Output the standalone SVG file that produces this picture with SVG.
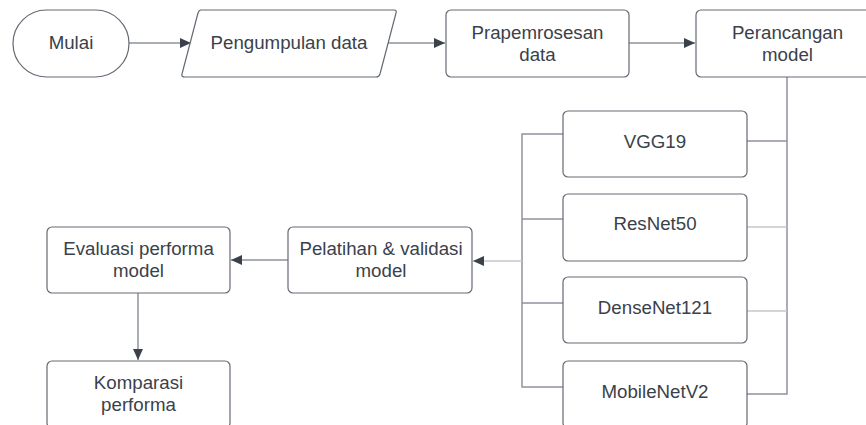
<svg xmlns="http://www.w3.org/2000/svg" width="866" height="425" viewBox="0 0 866 425">
  <defs>
    <marker id="arr" viewBox="0 0 10 10" refX="10" refY="5" markerWidth="11" markerHeight="11" markerUnits="userSpaceOnUse" orient="auto">
      <path d="M0,0.5 L10,5 L0,9.5 Z" fill="#3a414a"/>
    </marker>
  </defs>
  <style>
    .box { fill: #ffffff; stroke: #646a73; stroke-width: 1.2; }
    .t { font-family: "Liberation Sans", Arial, sans-serif; font-size: 18.7px; fill: #3a414a; text-anchor: middle; }
    .c { fill: none; stroke: #8e939b; stroke-width: 1.5; }
    .cl { fill: none; stroke: #c4c7cc; stroke-width: 1.5; }
  </style>
  <rect width="866" height="425" fill="#ffffff"/>

  <g id="connectors">
    <path class="c" d="M129,43 H191" marker-end="url(#arr)"/>
    <path class="c" d="M388,43 H445" marker-end="url(#arr)"/>
    <path class="c" d="M629,43 H695" marker-end="url(#arr)"/>
    <path class="c" d="M787,77 V394 H747"/>
    <path class="c" d="M747,141 H787"/>
    <path class="cl" d="M747,227 H787"/>
    <path class="cl" d="M747,311 H787"/>
    <path class="c" d="M563,134 H522 V387 H563"/>
    <path class="c" d="M522,219 H563"/>
    <path class="c" d="M522,303 H563"/>
    <path class="cl" d="M522,261 H473" marker-end="url(#arr)"/>
    <path class="c" d="M288,260 H231" marker-end="url(#arr)"/>
    <path class="c" d="M138,293 V360" marker-end="url(#arr)"/>
  </g>

  <g id="mulai">
    <rect class="box" x="13" y="10" width="116" height="67" rx="33.5"/>
    <text class="t" x="71" y="49">Mulai</text>
  </g>
  <g id="pengumpulan">
    <path class="box" d="M201,10 H394 Q397,10 396,13 L380,74 Q379,77 376,77 H185 Q181,77 182,74 L198,13 Q199,10 201,10 Z"/>
    <text class="t" x="289" y="49">Pengumpulan data</text>
  </g>
  <g id="prapemrosesan">
    <rect class="box" x="446" y="10" width="183" height="67" rx="5"/>
    <text class="t" x="537.5" y="39">Prapemrosesan</text>
    <text class="t" x="537.5" y="61">data</text>
  </g>
  <g id="perancangan">
    <rect class="box" x="696" y="10" width="183" height="67" rx="5"/>
    <text class="t" x="787.5" y="39">Perancangan</text>
    <text class="t" x="787.5" y="61">model</text>
  </g>
  <g id="vgg19">
    <rect class="box" x="563" y="111" width="184" height="66" rx="5"/>
    <text class="t" x="655" y="148">VGG19</text>
  </g>
  <g id="resnet50">
    <rect class="box" x="563" y="194" width="184" height="67" rx="5"/>
    <text class="t" x="655" y="230">ResNet50</text>
  </g>
  <g id="densenet121">
    <rect class="box" x="563" y="277" width="184" height="66" rx="5"/>
    <text class="t" x="655" y="314">DenseNet121</text>
  </g>
  <g id="mobilenetv2">
    <rect class="box" x="563" y="361" width="184" height="67" rx="5"/>
    <text class="t" x="655" y="398">MobileNetV2</text>
  </g>
  <g id="pelatihan">
    <rect class="box" x="288" y="227" width="184" height="66" rx="5"/>
    <text class="t" x="381" y="255">Pelatihan &amp; validasi</text>
    <text class="t" x="381" y="277">model</text>
  </g>
  <g id="evaluasi">
    <rect class="box" x="47" y="227" width="183" height="66" rx="5"/>
    <text class="t" x="138.5" y="255">Evaluasi performa</text>
    <text class="t" x="138.5" y="277">model</text>
  </g>
  <g id="komparasi">
    <rect class="box" x="47" y="361" width="183" height="67" rx="5"/>
    <text class="t" x="138.5" y="389">Komparasi</text>
    <text class="t" x="138.5" y="411">performa</text>
  </g>
</svg>
